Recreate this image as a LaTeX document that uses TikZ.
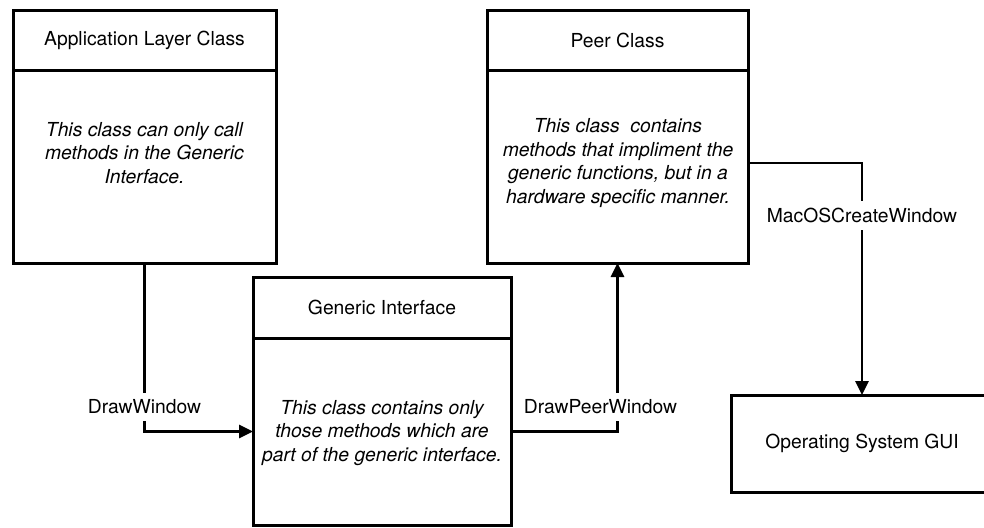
\documentclass[tikz,border=0pt]{standalone}
\usepackage{fontspec}
\setmainfont{TeX Gyre Heros}
\usetikzlibrary{arrows.meta}
\begin{document}
\begin{tikzpicture}[x=1pt,y=-1pt,
  txt/.style={font=\fontsize{19.3}{23.8}\selectfont},
  frame/.style={draw, line width=3pt, outer sep=0pt, inner sep=0pt, anchor=north west},
  headbox/.style={frame, txt},
  bodybox/.style={frame},
  desc/.style={font=\fontsize{19.3}{23.8}\selectfont\itshape, align=center, inner sep=0pt},
  conn/.style={line width=2.7pt, -{Triangle[length=14pt,width=13pt]}},
  lbl/.style={txt, fill=white, inner xsep=2pt, inner ysep=7pt}
]
\useasboundingbox (0,0) rectangle (984,527);
\fill[white] (0,0) rectangle (984,527);
\clip (0,0) rectangle (984,527);

% Application layer class
\node[headbox, minimum width=263pt, minimum height=59pt] (appHead) at (13,11) {Application Layer Class};
\node[bodybox, minimum width=263pt, minimum height=193pt] (appBody) at (13,70) {};
\node[desc] (appText) at (144.5,153) {This class can only call\\methods in the Generic\\Interface.};

% Generic interface
\node[headbox, minimum width=258pt, minimum height=61pt] (genHead) at (253,277) {Generic Interface};
\node[bodybox, minimum width=258pt, minimum height=187pt] (genBody) at (253,338) {};
\node[desc] (genText) at (382,433) {This class contains only\\those methods which are\\part of the generic interface.};

% Peer class
\node[headbox, minimum width=261pt, minimum height=59pt] (peerHead) at (487,11) {Peer Class};
\node[bodybox, minimum width=261pt, minimum height=193pt] (peerBody) at (487,70) {};
\node[desc] (peerText) at (618,163) {This class~ contains\\methods that impliment the\\generic functions, but in a\\hardware specific manner.};

% Operating system
\node[headbox, minimum width=262pt, minimum height=97pt] (osGui) at (731,395) {Operating System GUI};

% Calls between the layers
\draw[conn] (appBody.south) |- node[lbl, pos=0.427] {DrawWindow} (genBody.west);
\draw[conn] (genBody.east) -| node[lbl, pos=0.573, xshift=-17pt] {DrawPeerWindow} (peerBody.south);
\draw[conn] ([yshift=3.5pt]peerBody.east) -| node[lbl, pos=0.613] {MacOSCreateWindow} (osGui.north);
\end{tikzpicture}
\end{document}
